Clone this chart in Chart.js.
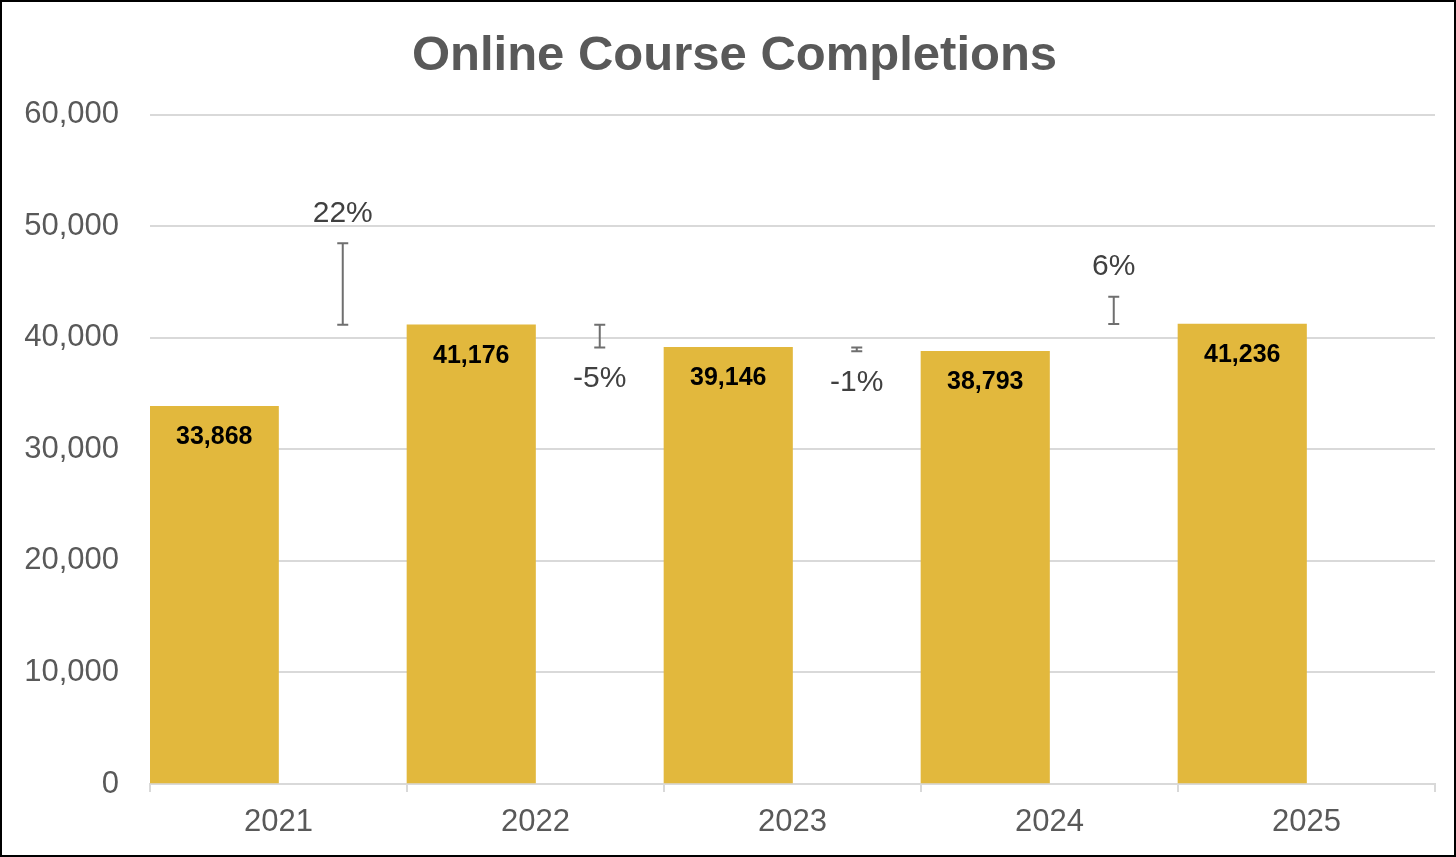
<!DOCTYPE html>
<html>
<head>
<meta charset="utf-8">
<script src="https://cdn.jsdelivr.net/npm/chart.js@4.4.1/dist/chart.umd.min.js"></script>
<style>
    html, body { margin: 0; padding: 0; background: #fff; }
    #wrap { width: 1452px; height: 853px; border: 2px solid #000; }
</style>
</head>
<body>
<div id="wrap"><canvas id="barChart" width="1452" height="853"></canvas></div>
<script>
// data
const years = ['2021', '2022', '2023', '2024', '2025'];
const completions = [33868, 41176, 39146, 38793, 41236];
const growthLabels = ['22%', '-5%', '-1%', '6%'];

const barColor = '#E2B83D';
const textGray = '#595959';
const fontFamily = '"Liberation Sans", Arial, sans-serif';

// growth markers: range between years, drawn as error bars in the empty half of each slot
const growthRanges = years.map((y, i) => {
    if (i >= completions.length - 1) return null;
    const cur = completions[i], next = completions[i + 1];
    const diff = next - cur;
    return diff >= 0 ? [next, next + diff] : [next, cur];
});

const growthPlugin = {
    id: 'growthMarks',
    beforeDraw(chart) {
        // nudge title a bit to the right, like the original
        const t = chart.titleBlock;
        if (t && !t._nudged) {
            t.left += 16;
            t.right += 16;
            t._nudged = true;
        }
    },
    afterDatasetsDraw(chart) {
        const ctx = chart.ctx;
        const yScale = chart.scales.y;

        // value labels inside the bars
        const barMeta = chart.getDatasetMeta(0);
        ctx.save();
        ctx.font = 'bold 25px ' + fontFamily;
        ctx.fillStyle = '#000';
        ctx.textAlign = 'center';
        ctx.textBaseline = 'middle';
        barMeta.data.forEach((bar, i) => {
            ctx.fillText(completions[i].toLocaleString('en-US'), bar.x, bar.y + 31);
        });
        ctx.restore();

        // error bars + percent labels
        const meta = chart.getDatasetMeta(1);
        ctx.save();
        meta.data.forEach((el, i) => {
            const r = growthRanges[i];
            if (!r) return;
            const x = el.x;
            const yLow = yScale.getPixelForValue(r[0]);
            const yHigh = yScale.getPixelForValue(r[1]);
            ctx.strokeStyle = '#6f6f6f';
            ctx.lineWidth = 2;
            ctx.beginPath();
            ctx.moveTo(x, yLow);
            ctx.lineTo(x, yHigh);
            ctx.moveTo(x - 5.5, yLow);
            ctx.lineTo(x + 5.5, yLow);
            ctx.moveTo(x - 5.5, yHigh);
            ctx.lineTo(x + 5.5, yHigh);
            ctx.stroke();

            ctx.font = '30px ' + fontFamily;
            ctx.fillStyle = '#404040';
            ctx.textAlign = 'center';
            ctx.textBaseline = 'middle';
            const up = !growthLabels[i].startsWith('-');
            ctx.fillText(growthLabels[i], x, up ? yHigh - 30 : yLow + 31);
        });
        ctx.restore();
    }
};

const barChart = document.getElementById('barChart').getContext('2d');
new Chart(barChart, {
    type: 'bar',
    data: {
        labels: years,
        datasets: [{
            label: 'Completions',
            data: completions,
            backgroundColor: barColor,
            categoryPercentage: 1,
            barPercentage: 1
        }, {
            label: 'Growth',
            data: growthRanges,
            backgroundColor: 'rgba(0,0,0,0)',
            categoryPercentage: 1,
            barPercentage: 1
        }]
    },
    options: {
        responsive: false,
        animation: false,
        layout: {
            padding: { left: 0, right: 19, bottom: 0, top: 0 }
        },
        scales: {
            x: {
                afterFit: s => { s.height = 71; },
                grid: {
                    drawOnChartArea: false,
                    drawTicks: true,
                    tickLength: 8,
                    color: '#d9d9d9',
                    lineWidth: 2
                },
                border: { display: true, color: '#d9d9d9', width: 2 },
                ticks: {
                    color: textGray,
                    font: { size: 31, family: fontFamily },
                    padding: 12
                }
            },
            y: {
                min: 0,
                max: 60000,
                afterFit: s => { s.width = 148; },
                grid: {
                    color: '#d9d9d9',
                    lineWidth: 2,
                    drawTicks: false
                },
                border: { display: false },
                ticks: {
                    stepSize: 10000,
                    color: textGray,
                    font: { size: 31, family: fontFamily },
                    padding: 31,
                    callback: v => v.toLocaleString('en-US')
                }
            }
        },
        plugins: {
            legend: { display: false },
            tooltip: { enabled: false },
            title: {
                display: true,
                text: 'Online Course Completions',
                color: textGray,
                font: { size: 49, weight: 'bold', family: fontFamily },
                padding: { top: 25, bottom: 29 }
            }
        }
    },
    plugins: [growthPlugin]
});
</script>
</body>
</html>
